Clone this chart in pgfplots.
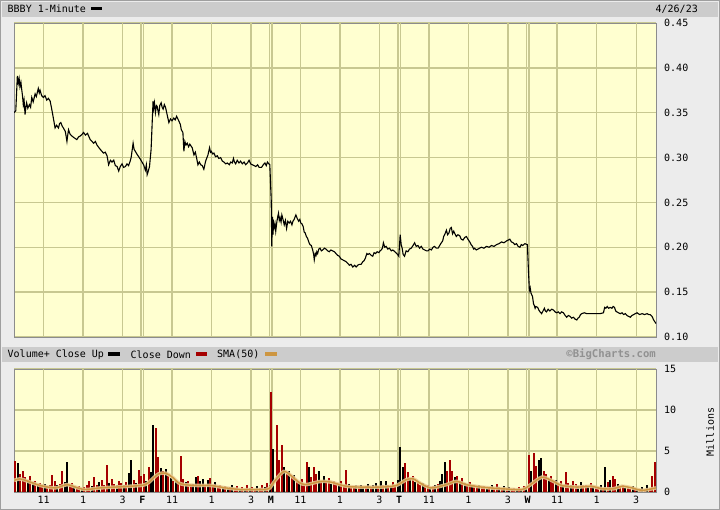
\documentclass[border=0pt]{standalone}
\usepackage{pgfplots}
\pgfplotsset{compat=1.18}
\usepackage{fontspec}
\setmainfont{DejaVu Sans Mono}
\setmonofont{DejaVu Sans Mono}
\definecolor{canvas}{RGB}{236,236,236}
\definecolor{barbg}{RGB}{204,204,204}
\definecolor{plotbg}{RGB}{255,255,208}
\definecolor{gridc}{RGB}{200,200,145}
\definecolor{downred}{RGB}{165,0,0}
\definecolor{smac}{RGB}{205,150,65}
\definecolor{smahalo}{RGB}{234,204,150}
\definecolor{framec}{RGB}{140,140,140}
\definecolor{bcgray}{RGB}{145,145,145}
\pgfplotsset{
  bcbase/.style={
    scale only axis, anchor=south west, width=642pt,
    xmin=0, xmax=32.5,
    axis background/.style={fill=plotbg},
    axis line style={framec, line width=0.8pt},
    major tick length=0pt,
    grid style={gridc, line width=1.5pt},
    major grid style={gridc, line width=1.5pt},
    ymajorgrids,
    extra x ticks={1.5,3.5,5.5,8,10,12,14.5,16.5,18.5,21,23,25,27.5,29.5,31.5,6.44,6.56,12.94,13.06,19.44,19.56,25.94,26.06},
    extra x tick labels={},
    extra x tick style={grid=major, major tick length=0pt},
    yticklabel pos=right,
    yticklabel style={anchor=west, inner sep=0pt, xshift=8pt, font=\fontsize{10}{12}\selectfont},
    /pgf/number format/assume math mode=true,
  }
}
\begin{document}
\begin{tikzpicture}[x=1pt,y=1pt,font=\fontsize{10}{12}\selectfont]
\fill[canvas] (0,0) rectangle (720,510);
\useasboundingbox (0,0) rectangle (720,510);
\draw[gray!75, line width=1pt] (0.5,0.5) rectangle (719.5,509.5);
% header bar
\fill[barbg] (2,493) rectangle (718,508);
\node[anchor=west, inner sep=0pt] at (7.5,501) {BBBY 1-Minute};
\fill[black] (91,499.5) rectangle (102,503);
\node[anchor=east, inner sep=0pt] at (698,501) {4/26/23};
% middle bar
\fill[barbg] (2,148) rectangle (718,163);
\node[anchor=west, inner sep=0pt] at (7.5,155.5) {Volume+ Close Up};
\fill[black] (108,154) rectangle (120,157.5);
\node[anchor=west, inner sep=0pt] at (130.5,155.5) {Close Down};
\fill[downred] (196,154) rectangle (207,157.5);
\node[anchor=west, inner sep=0pt] at (217,155.5) {SMA(50)};
\fill[smac] (265,154) rectangle (277,157.5);
\node[anchor=east, inner sep=0pt, text=bcgray, font=\fontsize{10.6}{12}\selectfont\bfseries] at (656,155.5) {©BigCharts.com};

% ---------------- price panel ----------------
\begin{axis}[bcbase,
  at={(14pt,173pt)}, height=314pt,
  ymin=0.10, ymax=0.45,
  xtick=\empty,
  ytick={0.10,0.15,0.20,0.25,0.30,0.35,0.40,0.45},
  yticklabel style={/pgf/number format/fixed, /pgf/number format/fixed zerofill, /pgf/number format/precision=2},
]
\addplot[black, line width=1.1pt, mark=none] coordinates {
(0,0.350)(0.09,0.352)(0.17,0.391)(0.22,0.383)(0.26,0.388)(0.30,0.379)(0.35,0.384)(0.39,0.376)(0.43,0.369)(0.47,0.359)(0.51,0.364)(0.56,0.348)(0.60,0.356)(0.64,0.361)(0.70,0.355)(0.78,0.359)(0.84,0.356)(0.90,0.367)(0.97,0.362)(1.07,0.371)(1.13,0.368)(1.23,0.377)(1.28,0.372)(1.32,0.375)(1.40,0.369)(1.49,0.367)(1.57,0.369)(1.66,0.364)(1.74,0.366)(1.83,0.363)(1.91,0.354)(2.00,0.343)(2.08,0.333)(2.16,0.336)(2.25,0.333)(2.31,0.338)(2.37,0.339)(2.44,0.335)(2.50,0.333)(2.60,0.329)(2.68,0.318)(2.72,0.325)(2.76,0.331)(2.84,0.326)(2.93,0.324)(3.05,0.322)(3.18,0.320)(3.27,0.323)(3.35,0.324)(3.45,0.326)(3.52,0.328)(3.62,0.325)(3.72,0.327)(3.86,0.320)(3.95,0.318)(4.03,0.316)(4.12,0.318)(4.20,0.314)(4.30,0.311)(4.37,0.309)(4.45,0.307)(4.53,0.305)(4.62,0.306)(4.71,0.302)(4.79,0.292)(4.88,0.297)(4.96,0.295)(5.05,0.297)(5.13,0.291)(5.22,0.290)(5.30,0.285)(5.38,0.290)(5.47,0.293)(5.55,0.289)(5.64,0.290)(5.72,0.293)(5.80,0.291)(5.88,0.296)(5.93,0.300)(6.03,0.316)(6.08,0.309)(6.14,0.307)(6.22,0.304)(6.31,0.301)(6.40,0.298)(6.48,0.295)
(6.56,0.292)(6.65,0.286)(6.70,0.292)(6.74,0.281)(6.80,0.285)(6.86,0.290)(6.94,0.309)(7.04,0.363)(7.07,0.355)(7.11,0.361)(7.16,0.350)(7.21,0.358)(7.25,0.357)(7.29,0.352)(7.33,0.348)(7.38,0.358)(7.45,0.361)(7.50,0.356)(7.55,0.354)(7.61,0.359)(7.67,0.356)(7.75,0.348)(7.84,0.339)(7.92,0.343)(8.00,0.341)(8.09,0.344)(8.16,0.342)(8.23,0.346)(8.34,0.341)(8.42,0.337)(8.47,0.331)(8.55,0.328)(8.60,0.307)(8.65,0.318)(8.71,0.314)(8.77,0.316)(8.84,0.312)(8.90,0.315)(9.02,0.311)(9.11,0.303)(9.18,0.306)(9.24,0.300)(9.31,0.292)(9.38,0.295)(9.45,0.292)(9.53,0.291)(9.61,0.287)(9.70,0.296)(9.82,0.303)(9.90,0.311)(9.95,0.306)(9.99,0.307)(10.06,0.304)(10.12,0.305)(10.20,0.301)(10.29,0.302)(10.37,0.299)(10.46,0.300)(10.55,0.296)(10.63,0.295)(10.72,0.293)(10.80,0.294)(10.90,0.292)(10.97,0.295)(11.05,0.294)(11.11,0.299)(11.16,0.295)(11.22,0.293)(11.30,0.297)(11.39,0.294)(11.47,0.296)(11.56,0.293)(11.65,0.295)(11.73,0.292)(11.82,0.294)(11.90,0.297)(11.98,0.293)(12.07,0.292)(12.16,0.291)(12.24,0.290)(12.33,0.292)(12.41,0.289)(12.53,0.289)(12.62,0.292)(12.70,0.294)(12.77,0.291)(12.83,0.295)(12.90,0.293)(12.95,0.292)
(13.02,0.253)(13.05,0.201)(13.07,0.226)(13.09,0.234)(13.11,0.214)(13.12,0.231)(13.15,0.219)(13.17,0.223)(13.21,0.227)(13.25,0.218)(13.31,0.229)(13.36,0.235)(13.39,0.238)(13.43,0.230)(13.47,0.233)(13.52,0.228)(13.56,0.236)(13.62,0.231)(13.68,0.225)(13.74,0.230)(13.80,0.221)(13.86,0.229)(13.93,0.227)(14.00,0.229)(14.07,0.225)(14.12,0.229)(14.18,0.231)(14.27,0.236)(14.34,0.232)(14.41,0.229)(14.47,0.231)(14.52,0.227)(14.58,0.226)(14.64,0.223)(14.69,0.217)(14.74,0.216)(14.80,0.212)(14.86,0.210)(14.92,0.206)(14.98,0.203)(15.05,0.202)(15.12,0.197)(15.17,0.192)(15.20,0.186)(15.25,0.193)(15.29,0.191)(15.33,0.195)(15.37,0.193)(15.43,0.198)(15.49,0.199)(15.56,0.196)(15.63,0.197)(15.71,0.199)(15.79,0.198)(15.88,0.196)(15.96,0.195)(16.04,0.197)(16.13,0.196)(16.22,0.195)(16.30,0.193)(16.38,0.191)(16.47,0.190)(16.55,0.187)(16.64,0.186)(16.72,0.185)(16.81,0.184)(16.90,0.182)(16.98,0.180)(17.06,0.181)(17.15,0.178)(17.24,0.180)(17.32,0.178)(17.40,0.180)(17.48,0.181)(17.57,0.181)(17.66,0.184)(17.72,0.185)(17.79,0.188)(17.86,0.193)(17.92,0.192)(17.99,0.193)(18.08,0.191)(18.16,0.190)(18.23,0.194)(18.30,0.193)(18.38,0.195)(18.47,0.194)(18.53,0.196)(18.59,0.197)(18.65,0.199)(18.70,0.205)(18.77,0.200)(18.84,0.201)(18.92,0.198)(19.01,0.199)(19.10,0.196)(19.18,0.197)(19.28,0.195)(19.38,0.193)(19.48,0.190)
(19.55,0.214)(19.60,0.203)(19.65,0.199)(19.70,0.192)(19.77,0.190)(19.85,0.196)(19.94,0.195)(20.02,0.198)(20.11,0.199)(20.20,0.202)(20.28,0.205)(20.36,0.201)(20.45,0.202)(20.53,0.199)(20.62,0.201)(20.70,0.198)(20.79,0.197)(20.88,0.196)(20.96,0.196)(21.05,0.198)(21.13,0.197)(21.21,0.200)(21.29,0.201)(21.38,0.199)(21.47,0.199)(21.55,0.202)(21.63,0.205)(21.70,0.207)(21.75,0.212)(21.82,0.215)(21.89,0.219)(21.95,0.214)(22.02,0.216)(22.08,0.221)(22.14,0.222)(22.20,0.215)(22.26,0.218)(22.32,0.215)(22.39,0.212)(22.47,0.214)(22.56,0.213)(22.64,0.209)(22.73,0.208)(22.82,0.211)(22.90,0.212)(22.98,0.209)(23.07,0.206)(23.14,0.203)(23.21,0.201)(23.27,0.198)(23.32,0.199)(23.40,0.197)(23.49,0.198)(23.57,0.199)(23.66,0.200)(23.79,0.199)(23.92,0.201)(24.05,0.200)(24.17,0.202)(24.30,0.201)(24.43,0.203)(24.55,0.204)(24.68,0.206)(24.80,0.205)(24.93,0.207)(25.02,0.208)(25.10,0.209)(25.18,0.206)(25.27,0.205)(25.35,0.203)(25.44,0.204)(25.52,0.201)(25.61,0.200)(25.68,0.203)(25.75,0.202)(25.86,0.204)(25.99,0.203)
(26.04,0.175)(26.09,0.152)(26.13,0.155)(26.17,0.149)(26.21,0.147)(26.25,0.145)(26.30,0.137)(26.34,0.135)(26.38,0.132)(26.42,0.134)(26.51,0.133)(26.57,0.130)(26.63,0.128)(26.71,0.126)(26.78,0.129)(26.85,0.132)(26.90,0.129)(26.96,0.128)(27.04,0.131)(27.13,0.129)(27.22,0.131)(27.31,0.130)(27.39,0.128)(27.47,0.127)(27.55,0.128)(27.64,0.126)(27.72,0.128)(27.81,0.127)(27.90,0.124)(27.98,0.122)(28.06,0.124)(28.15,0.123)(28.23,0.121)(28.32,0.122)(28.40,0.120)(28.49,0.119)(28.55,0.121)(28.61,0.122)(28.68,0.125)(28.74,0.126)(28.87,0.127)(29.00,0.126)(29.12,0.126)(29.25,0.126)(29.38,0.126)(29.50,0.126)(29.67,0.126)(29.84,0.127)(29.90,0.133)(29.96,0.132)(30.03,0.134)(30.10,0.132)(30.18,0.133)(30.27,0.132)(30.33,0.134)(30.40,0.133)(30.46,0.129)(30.52,0.128)(30.60,0.127)(30.69,0.126)(30.78,0.127)(30.86,0.125)(30.95,0.126)(31.03,0.124)(31.11,0.123)(31.20,0.122)(31.28,0.124)(31.37,0.125)(31.45,0.126)(31.54,0.127)(31.67,0.125)(31.80,0.126)(31.92,0.125)(32.05,0.126)(32.13,0.125)(32.21,0.125)(32.30,0.123)(32.38,0.119)(32.44,0.117)(32.50,0.115)
};
\end{axis}

% ---------------- volume panel ----------------
\begin{axis}[bcbase,
  at={(14pt,18pt)}, height=123pt,
  ymin=0, ymax=15,
  ytick={0,5,10,15},
  xtick={1.5,3.5,5.5,6.5,8,10,12,13,14.5,16.5,18.5,19.5,21,23,25,26,27.5,29.5,31.5},
  xticklabels={11,1,3,\textbf{F},11,1,3,\textbf{M},11,1,3,\textbf{T},11,1,3,\textbf{W},11,1,3},
  xticklabel style={anchor=north, inner sep=0pt, yshift=-4pt, font=\fontsize{10}{12}\selectfont},
  xmajorgrids=false,
]
\addplot[ycomb, downred, line width=2pt, mark=none] coordinates {
(0.06,3.8)(0.31,2.2)(0.44,2.6)(0.56,1.8)(0.81,1.9)(1.06,1.4)(1.31,1.1)(1.44,0.8)(1.69,0.7)(1.81,0.9)(1.94,2.1)(2.06,1.3)(2.31,1.0)(2.44,2.5)(2.81,0.9)(2.94,1.1)(3.19,0.5)(3.31,0.7)(3.56,0.6)(3.69,0.8)(3.81,1.4)(4.06,1.8)(4.19,0.9)(4.44,1.5)(4.56,0.8)(4.69,3.3)(4.94,1.6)(5.06,1.0)(5.31,1.3)(5.44,1.1)(5.69,1.2)(6.06,1.5)(6.31,2.7)(6.44,1.9)
(6.56,2.2)(6.81,3.0)(7.19,7.8)(7.31,4.3)(7.56,2.6)(7.81,2.0)(8.06,1.3)(8.31,1.1)(8.44,4.4)(8.56,1.6)(8.81,1.4)(8.94,0.9)(9.31,2.0)(9.69,0.8)(9.94,1.7)(10.06,0.9)(10.31,0.6)(10.44,0.8)(10.69,0.7)(10.94,0.6)(11.19,0.5)(11.31,0.7)(11.56,0.6)(11.81,0.8)(12.06,0.6)(12.19,0.4)(12.44,0.5)(12.56,0.9)(12.81,1.1)
(13.00,12.2)(13.31,8.2)(13.44,3.9)(13.56,5.7)(13.81,2.2)(14.06,1.8)(14.31,1.5)(14.56,1.6)(14.69,1.0)(14.81,3.7)(15.06,1.8)(15.19,3.1)(15.31,2.2)(15.56,1.4)(15.81,1.3)(15.94,1.7)(16.19,1.4)(16.31,1.1)(16.56,1.3)(16.69,0.8)(16.81,2.7)(17.06,0.7)(17.19,0.5)(17.44,0.6)(17.81,0.7)(18.06,0.6)(18.44,0.7)(18.69,0.9)(18.94,0.8)(19.19,1.2)(19.31,0.9)
(19.81,3.5)(19.94,2.4)(20.19,1.9)(20.44,1.4)(20.56,0.9)(20.81,0.7)(20.94,0.8)(21.19,0.7)(21.44,1.0)(21.94,2.5)(22.06,3.9)(22.19,2.6)(22.44,2.0)(22.69,1.7)(22.94,0.9)(23.06,1.2)(23.31,0.8)(23.44,0.6)(23.69,0.5)(23.81,0.7)(24.06,0.6)(24.31,0.5)(24.44,1.0)(24.69,0.4)(24.94,0.5)(25.19,0.4)(25.31,0.5)(25.56,0.6)(25.81,0.7)
(26.06,4.5)(26.31,4.7)(26.44,3.2)(26.81,2.5)(26.94,2.2)(27.19,1.9)(27.31,1.2)(27.56,1.0)(27.69,1.3)(27.94,2.4)(28.06,1.1)(28.31,1.4)(28.44,1.0)(28.81,0.8)(28.94,0.9)(29.19,1.1)(29.44,0.5)(29.56,0.6)(29.81,0.5)(30.06,1.2)(30.31,2.0)(30.44,1.6)(30.69,0.7)(30.81,0.9)(31.06,0.6)(31.19,0.4)(31.44,0.5)(31.69,0.4)(31.94,0.3)(32.19,0.5)(32.31,2.0)(32.44,3.7)
};
\addplot[ycomb, black, line width=2pt, mark=none] coordinates {
(0.19,3.5)(0.69,1.5)(0.94,1.2)(1.19,0.9)(1.56,1.0)(2.19,0.8)(2.56,1.2)(2.69,3.6)(3.06,0.6)(3.44,0.4)(3.94,0.7)(4.31,1.2)(4.81,1.1)(5.19,0.9)(5.56,0.8)(5.81,2.3)(5.94,3.9)(6.19,1.1)
(6.69,1.4)(6.94,2.4)(7.06,8.2)(7.44,2.9)(7.69,2.8)(7.94,1.7)(8.19,1.5)(8.69,1.2)(9.06,1.0)(9.19,1.8)(9.44,1.3)(9.56,1.6)(9.81,1.5)(10.19,1.2)(10.56,0.5)(10.81,0.4)(11.06,0.8)(11.44,0.4)(11.69,0.3)(11.94,0.5)(12.31,0.7)(12.69,0.6)(12.94,0.8)
(13.13,5.3)(13.69,3.0)(13.94,2.6)(14.19,2.1)(14.44,1.2)(14.94,3.1)(15.44,2.5)(15.69,2.0)(16.06,1.0)(16.44,0.9)(16.94,1.0)(17.31,0.8)(17.56,0.9)(17.69,0.5)(17.94,1.0)(18.19,0.8)(18.31,1.1)(18.56,1.3)(18.81,1.4)(19.06,0.6)(19.44,1.5)
(19.56,5.5)(19.69,3.0)(20.06,1.6)(20.31,1.2)(20.69,1.1)(21.06,0.5)(21.31,0.9)(21.56,1.3)(21.69,2.2)(21.81,3.7)(22.31,1.8)(22.56,1.4)(22.81,1.1)(23.19,0.7)(23.56,0.9)(23.94,0.4)(24.19,0.8)(24.56,0.6)(24.81,0.7)(25.06,0.6)(25.44,0.3)(25.69,0.4)(25.94,0.5)
(26.19,2.5)(26.56,3.9)(26.69,4.1)(27.06,1.6)(27.44,1.5)(27.81,0.9)(28.19,0.8)(28.56,0.7)(28.69,1.2)(29.06,0.6)(29.31,0.7)(29.69,0.8)(29.94,3.1)(30.19,1.5)(30.56,1.0)(30.94,0.5)(31.31,0.7)(31.56,0.3)(31.81,0.6)(32.06,0.8)
};
\addplot[smahalo, line width=3.6pt, smooth, mark=none, opacity=0.85] coordinates {
(0,1.4)(0.30,1.6)(0.71,1.3)(1.32,0.8)(2.08,0.5)(2.69,0.9)(3.10,0.6)(3.61,0.3)(4.37,0.5)(5.13,0.6)(5.89,0.7)(6.65,0.9)(7.01,1.6)(7.31,2.2)(7.67,2.3)(8.02,1.8)(8.43,1.0)(9.19,0.8)(9.95,0.8)(10.71,0.5)(11.48,0.3)(12.49,0.3)(12.90,0.4)(13.25,1.5)(13.66,2.5)(14.02,2.0)(14.42,1.2)(14.78,0.9)(15.54,1.3)(16.05,1.2)(16.81,0.7)(17.57,0.6)(18.59,0.6)(19.35,0.8)(19.86,1.5)(20.21,1.6)(20.62,1.0)(21.13,0.5)(21.89,0.9)(22.39,1.3)(22.90,0.9)(23.66,0.6)(24.68,0.4)(25.69,0.3)(26.10,0.8)(26.71,1.8)(27.22,1.4)(27.73,0.8)(28.49,0.6)(29.25,0.7)(29.76,0.4)(30.37,0.4)(30.77,0.7)(31.28,0.5)(31.80,0.2)(32.5,0.5)
};
\addplot[smac, line width=1.4pt, smooth, mark=none] coordinates {
(0,1.4)(0.30,1.6)(0.71,1.3)(1.32,0.8)(2.08,0.5)(2.69,0.9)(3.10,0.6)(3.61,0.3)(4.37,0.5)(5.13,0.6)(5.89,0.7)(6.65,0.9)(7.01,1.6)(7.31,2.2)(7.67,2.3)(8.02,1.8)(8.43,1.0)(9.19,0.8)(9.95,0.8)(10.71,0.5)(11.48,0.3)(12.49,0.3)(12.90,0.4)(13.25,1.5)(13.66,2.5)(14.02,2.0)(14.42,1.2)(14.78,0.9)(15.54,1.3)(16.05,1.2)(16.81,0.7)(17.57,0.6)(18.59,0.6)(19.35,0.8)(19.86,1.5)(20.21,1.6)(20.62,1.0)(21.13,0.5)(21.89,0.9)(22.39,1.3)(22.90,0.9)(23.66,0.6)(24.68,0.4)(25.69,0.3)(26.10,0.8)(26.71,1.8)(27.22,1.4)(27.73,0.8)(28.49,0.6)(29.25,0.7)(29.76,0.4)(30.37,0.4)(30.77,0.7)(31.28,0.5)(31.80,0.2)(32.5,0.5)
};
\end{axis}
\node[rotate=90, inner sep=0pt] at (710,78) {Millions};
\end{tikzpicture}
\end{document}
